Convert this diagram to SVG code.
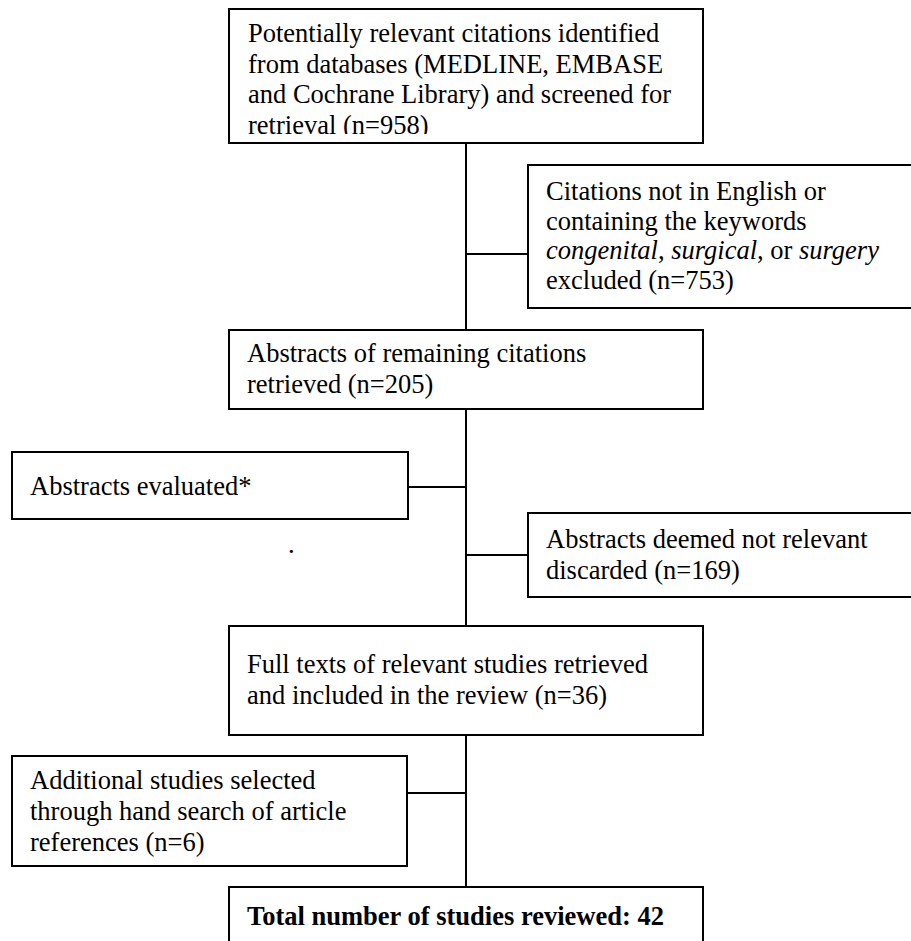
<svg xmlns="http://www.w3.org/2000/svg" width="911" height="941" viewBox="0 0 911 941">
<style>
.box{fill:#fff;stroke:#000;stroke-width:2}
.t{font-family:"Liberation Serif","Times New Roman",serif;font-size:26.5px;fill:#000}
.b{font-weight:bold}
.i{font-style:italic}
.c{stroke:#000;stroke-width:2;fill:none}
</style>
<defs>
<clipPath id="clip1"><rect x="229" y="9" width="474" height="125"/></clipPath>
</defs>
<rect width="911" height="941" fill="#fff"/>
<g id="connectors">
<path class="c" d="M466 143V330M466 409V626M466 735V887M466 254H528M408 487H466M466 555H528M407 793H466"/>
</g>
<g id="n1">
<rect class="box" x="229" y="9" width="474" height="134"/>
<g clip-path="url(#clip1)">
<text class="t" x="248" y="42">Potentially relevant citations identified</text>
<text class="t" x="248" y="72.5">from databases (MEDLINE, EMBASE</text>
<text class="t" x="248" y="103">and Cochrane Library) and screened for</text>
<text class="t" x="248" y="133.5">retrieval (n=958)</text>
</g>
</g>
<g id="n2">
<rect class="box" x="528" y="165" width="400" height="143"/>
<text class="t" x="546" y="200">Citations not in English or</text>
<text class="t" x="546" y="229.5">containing the keywords</text>
<text class="t" x="546" y="259"><tspan class="i">congenital</tspan>, <tspan class="i">surgical</tspan>, or <tspan class="i">surgery</tspan></text>
<text class="t" x="546" y="288.5">excluded (n=753)</text>
</g>
<g id="n3">
<rect class="box" x="229" y="330" width="474" height="79"/>
<text class="t" x="247" y="362">Abstracts of remaining citations</text>
<text class="t" x="247" y="393">retrieved (n=205)</text>
</g>
<g id="n4">
<rect class="box" x="12" y="452" width="396" height="67"/>
<text class="t" x="30" y="495">Abstracts evaluated*</text>
</g>
<text class="t" x="288" y="553">.</text>
<g id="n5">
<rect class="box" x="528" y="513" width="400" height="84"/>
<text class="t" x="546" y="548">Abstracts deemed not relevant</text>
<text class="t" x="546" y="578.5">discarded (n=169)</text>
</g>
<g id="n6">
<rect class="box" x="229" y="626" width="474" height="109"/>
<text class="t" x="247" y="673">Full texts of relevant studies retrieved</text>
<text class="t" x="247" y="703.5">and included in the review (n=36)</text>
</g>
<g id="n7">
<rect class="box" x="12" y="756" width="395" height="110"/>
<text class="t" x="30" y="789">Additional studies selected</text>
<text class="t" x="30" y="820">through hand search of article</text>
<text class="t" x="30" y="850.5">references (n=6)</text>
</g>
<g id="n8">
<rect class="box" x="229" y="887" width="474" height="80"/>
<text class="t b" x="247" y="925">Total number of studies reviewed: 42</text>
</g>
</svg>
